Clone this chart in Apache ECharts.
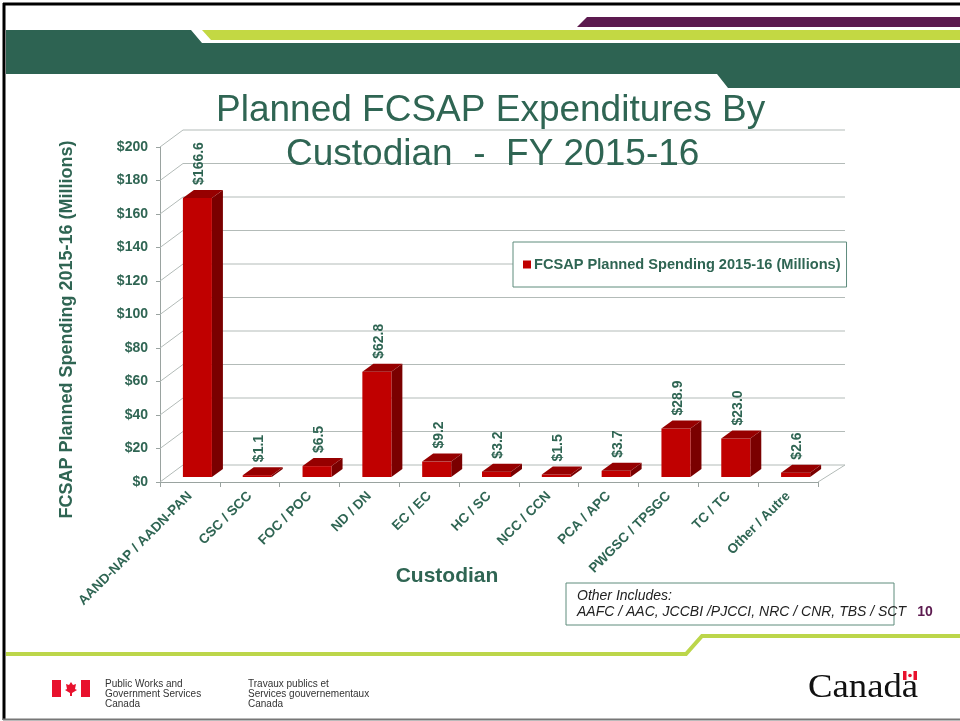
<!DOCTYPE html>
<html>
<head>
<meta charset="utf-8">
<script src="https://cdn.jsdelivr.net/npm/echarts@6/dist/echarts.min.js"></script>
<style>
  html, body { margin: 0; padding: 0; background: #fff; }
  #chart { width: 960px; height: 721px; }
</style>
</head>
<body>
<div id="chart"></div>
<script>
const categories = ["AAND-NAP / AADN-PAN", "CSC / SCC", "FOC / POC", "ND / DN", "EC / EC", "HC / SC",
  "NCC / CCN", "PCA / APC", "PWGSC / TPSGC", "TC / TC", "Other / Autre"];
const spending = [166.6, 1.1, 6.5, 62.8, 9.2, 3.2, 1.5, 3.7, 28.9, 23.0, 2.6];
const yTicks = [0, 20, 40, 60, 80, 100, 120, 140, 160, 180, 200];
const seriesName = "FCSAP Planned Spending 2015-16 (Millions)";

const green = "#2f6553";
const font = "'Liberation Sans', Arial, sans-serif";

const chart = echarts.init(document.getElementById("chart"));

// 3D box for each bar (front face, top, right side) + rotated value label
function renderBar(params, api) {
  const cat = api.value(0), v = api.value(1);
  const base = api.coord([cat, 0]);
  const top = api.coord([cat, v]);
  const band = api.size([1, 0])[0];
  const w = band * 0.485;
  const cx = base[0] + 7.5;
  const x0 = cx - w / 2, x1 = cx + w / 2;
  const yb = base[1] - 5, yt = top[1] - 5;
  const dx = 11, dy = -8;
  return {
    type: "group",
    children: [
      { type: "polygon", shape: { points: [[x1, yt], [x1 + dx, yt + dy], [x1 + dx, yb + dy], [x1, yb]] },
        style: { fill: "#7a0000" } },
      { type: "rect", shape: { x: x0, y: yt, width: w, height: yb - yt }, style: { fill: "#c00000" } },
      { type: "polygon", shape: { points: [[x0, yt], [x1, yt], [x1 + dx, yt + dy], [x0 + dx, yt + dy]] },
        style: { fill: "#960000" } },
      { type: "text", x: cx + 2, y: yt - 13, rotation: Math.PI / 2,
        style: { text: "$" + v.toFixed(1), fill: green, font: "bold 14px " + font,
          textAlign: "left", textVerticalAlign: "middle" } }
    ]
  };
}

// left wall diagonals and back wall gridlines
function renderWall(params, api) {
  const v = api.value(1);
  const n = categories.length;
  const band = api.size([1, 0])[0];
  const p = api.coord([0, v]);
  const left = p[0] - band / 2;
  const right = api.coord([n - 1, v])[0] + band / 2;
  const y = p[1];
  const ls = { stroke: "#b3bbb8", lineWidth: 1 };
  const kids = [
    { type: "line", shape: { x1: left, y1: y, x2: left + 23, y2: y - 17 }, style: ls },
    { type: "line", shape: { x1: left + 23, y1: y - 17, x2: right + 27, y2: y - 17 }, style: ls }
  ];
  if (v === 0) {
    kids.push({ type: "line", shape: { x1: right, y1: y, x2: right + 27, y2: y - 17 }, style: ls });
  }
  return { type: "group", children: kids };
}

const titleStyle = { fontSize: 37, fontWeight: "normal", color: green, lineHeight: 44, fontFamily: font };

const option = {
  animation: false,
  title: [
    { text: "Planned FCSAP Expenditures By", left: 216, top: 89, padding: 0, textStyle: titleStyle },
    { text: "Custodian  -  FY 2015-16", left: 286, top: 133, padding: 0, textStyle: titleStyle }
  ],
  legend: {
    left: 513,
    top: 242,
    orient: "horizontal",
    padding: [15, 6, 15, 10],
    itemWidth: 8,
    itemHeight: 8,
    itemGap: 4,
    backgroundColor: "#fff",
    borderColor: "#5f8c7d",
    borderWidth: 1,
    data: [{ name: seriesName, icon: "rect", itemStyle: { color: "#c00000" } }],
    textStyle: { fontSize: 14.6, fontWeight: "bold", color: green, fontFamily: font, padding: [0, 0, 0, -2] }
  },
  grid: { left: 160, top: 147, width: 658, height: 335 },
  xAxis: {
    type: "category",
    data: categories,
    name: "Custodian",
    nameLocation: "middle",
    nameGap: 84,
    nameMoveOverlap: false,
    nameTextStyle: { fontSize: 21, fontWeight: "bold", color: green, fontFamily: font, padding: [0, 84, 0, 0] },
    axisLine: { lineStyle: { color: "#9aa3a0" } },
    axisTick: { show: true, length: 5, lineStyle: { color: "#9aa3a0" } },
    axisLabel: { interval: 0, rotate: 45, margin: 12, fontSize: 13.5, fontWeight: "bold", color: green, fontFamily: font }
  },
  yAxis: {
    type: "value",
    min: 0,
    max: 200,
    interval: 20,
    name: seriesName,
    nameLocation: "middle",
    nameRotate: 90,
    nameGap: 84,
    nameTextStyle: { fontSize: 18, fontWeight: "bold", color: green, fontFamily: font, padding: [0, 30, 0, 0] },
    axisLine: { show: true, lineStyle: { color: "#9aa3a0" } },
    axisTick: { show: true, length: 4, lineStyle: { color: "#9aa3a0" } },
    splitLine: { show: false },
    axisLabel: { formatter: "${value}", margin: 12, fontSize: 14, fontWeight: "bold", color: green, fontFamily: font }
  },
  series: [
    {
      type: "custom",
      name: "walls",
      z: 1,
      silent: true,
      renderItem: renderWall,
      data: yTicks.map(v => [0, v])
    },
    {
      type: "custom",
      name: seriesName,
      z: 2,
      itemStyle: { color: "#c00000" },
      renderItem: renderBar,
      data: spending.map((v, i) => [i, v])
    }
  ],
  graphic: [
    // slide border
    { type: "line", shape: { x1: 3, y1: 4, x2: 960, y2: 4 }, style: { stroke: "#000", lineWidth: 3 } },
    { type: "line", shape: { x1: 4, y1: 3, x2: 4, y2: 720 }, style: { stroke: "#000", lineWidth: 3 } },
    { type: "line", shape: { x1: 3, y1: 719.5, x2: 960, y2: 719.5 }, style: { stroke: "#777", lineWidth: 2 } },
    // header bands
    { type: "polygon", shape: { points: [[587, 17], [960, 17], [960, 27], [577, 27]] }, style: { fill: "#5c1a4f" } },
    { type: "polygon", shape: { points: [[202, 30], [960, 30], [960, 40], [211, 40]] }, style: { fill: "#c3d843" } },
    { type: "polygon", shape: { points: [[6, 30], [191, 30], [202, 43], [960, 43], [960, 88], [728, 88], [717, 74], [6, 74]] },
      style: { fill: "#2d6352" } },
    // footer line
    { type: "polyline", shape: { points: [[6, 654], [686, 654], [702, 636], [960, 636]] },
      style: { stroke: "#bcd64a", lineWidth: 4, fill: null } },
    // note box
    { type: "rect", shape: { x: 566, y: 583, width: 328, height: 42 }, style: { fill: "#fff", stroke: "#5f8c7d", lineWidth: 1 } },
    { type: "text", x: 577, y: 596, style: { text: "Other Includes:", font: "italic 14px " + font, fill: "#222", textVerticalAlign: "middle" } },
    { type: "text", x: 577, y: 612, style: { text: "AAFC / AAC, JCCBI /PJCCI, NRC / CNR, TBS / SCT", font: "italic 14px " + font, fill: "#222", textVerticalAlign: "middle" } },
    { type: "text", x: 925, y: 612, style: { text: "10", font: "bold 14px " + font, fill: "#5c1a4f", textAlign: "center", textVerticalAlign: "middle" } },
    // footer logos
    { type: "rect", shape: { x: 52, y: 680, width: 9, height: 17 }, style: { fill: "#e8112d" } },
    { type: "rect", shape: { x: 81, y: 680, width: 9, height: 17 }, style: { fill: "#e8112d" } },
    { type: "polygon", shape: { points: [[71, 682], [73, 685], [76, 684], [75, 689], [77, 690], [72, 693], [72, 696], [70, 696], [70, 693], [65, 690], [67, 689], [66, 684], [69, 685]] },
      style: { fill: "#e8112d" } },
    { type: "text", x: 105, y: 679, style: { text: "Public Works and\nGovernment Services\nCanada", font: "10px " + font, fill: "#333", lineHeight: 10 } },
    { type: "text", x: 248, y: 679, style: { text: "Travaux publics et\nServices gouvernementaux\nCanada", font: "10px " + font, fill: "#333", lineHeight: 10 } },
    { type: "text", x: 808, y: 705, scaleX: 1.08, style: { text: "Canada", font: "34px 'Liberation Serif', 'Times New Roman', serif", fill: "#111", textVerticalAlign: "bottom" } },
    { type: "rect", shape: { x: 903, y: 671, width: 3.5, height: 9 }, style: { fill: "#e8112d" } },
    { type: "rect", shape: { x: 913.5, y: 671, width: 3.5, height: 9 }, style: { fill: "#e8112d" } },
    { type: "circle", shape: { cx: 910, cy: 675.5, r: 1.8 }, style: { fill: "#e8112d" } }
  ]
};

chart.setOption(option);
window.addEventListener("resize", function () {
  chart.resize();
});
</script>
</body>
</html>
